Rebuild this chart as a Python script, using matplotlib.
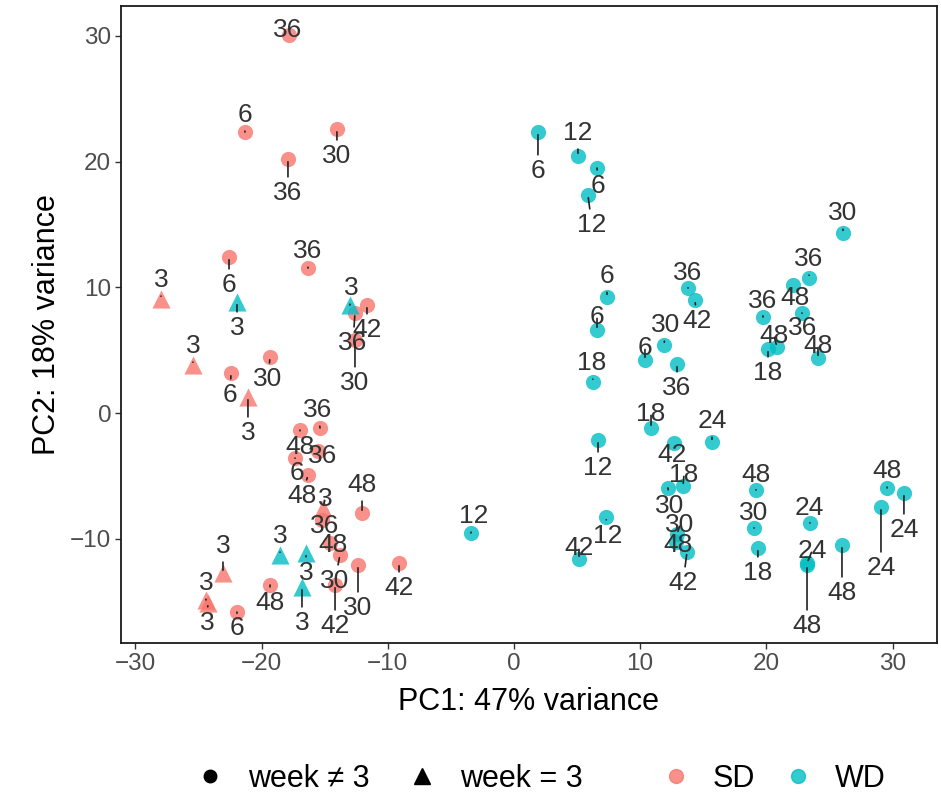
import matplotlib
matplotlib.use('Agg')

import matplotlib.pyplot as plt
from matplotlib.lines import Line2D

plt.rcParams['font.family'] = ['Liberation Sans', 'DejaVu Sans']

# PCA scores, one entry per sample
pc1 = [-17.83, -21.32, -14.03, -17.91, -27.97, -22.58, -16.32, -11.65,
       -12.60, -12.60, -25.44, -19.33, -22.42, -21.08, -15.37, -16.96,
       -15.53, -17.35, -16.32, -12.04, -15.13, -15.21, -14.58, -13.79,
       -14.18, -12.36, -9.11, -19.33, -21.95, -23.06, -24.41, -24.25,
       1.90, 5.07, 6.58, 5.86, -21.95, -13.00, 7.37, 6.58,
       13.79, 14.34, 11.89, 10.38, 12.92, 6.26, 10.86, 15.69,
       6.66, 12.68, 13.39, 12.20, 12.92, 12.84, 13.71, 7.29,
       5.15, -3.41, -18.54, -16.48, -16.80, 26.07, 23.38, 22.11,
       19.73, 22.82, 20.13, 20.84, 24.09, 19.18, 19.02, 19.33,
       23.45, 23.22, 23.22, 25.99, 29.56, 30.90, 29.08]
pc2 = [30.06, 22.35, 22.58, 20.20, 9.07, 12.41, 11.53, 8.59,
       7.95, 5.81, 3.82, 4.45, 3.18, 1.27, -1.19, -1.35,
       -3.02, -3.58, -4.93, -7.95, -7.55, -8.51, -10.34, -11.29,
       -13.68, -12.09, -11.93, -13.68, -15.83, -12.72, -14.87, -15.11,
       22.35, 20.44, 19.48, 17.34, 8.83, 8.59, 9.22, 6.60,
       9.94, 8.99, 5.41, 4.21, 3.90, 2.47, -1.19, -2.31,
       -2.15, -2.39, -5.81, -5.96, -9.62, -10.26, -11.05, -8.27,
       -11.61, -9.54, -11.29, -11.13, -13.84, 14.31, 10.74, 10.18,
       7.63, 7.95, 5.09, 5.25, 4.37, -6.12, -9.15, -10.74,
       -8.75, -11.93, -12.09, -10.50, -5.96, -6.36, -7.48]
diet = ['SD'] * 32 + ['WD'] * 47
week = [36, 6, 30, 36, 3, 6, 36, 42,
        36, 30, 3, 30, 6, 3, 36, 48,
        36, 6, 48, 48, 3, 36, 48, 30,
        42, 30, 42, 48, 6, 3, 3, 3,
        6, 12, 6, 12, 3, 3, 6, 6,
        36, 42, 30, 6, 36, 18, 18, 24,
        12, 42, 18, 30, 30, 48, 42, 12,
        42, 12, 3, 3, 3, 30, 36, 48,
        36, 36, 18, 48, 48, 48, 30, 18,
        24, 24, 48, 48, 48, 24, 24]

# repelled label placement: pixel nudge from each point (x right, y up)
nudge_x = [-1, 0, 0, 0, 0, 0, 0, 0,
           -2, 0, 0, -2, -1, 0, -2, 0,
           5, 2, -6, 0, 2, 3, 3, -5,
           0, 0, 0, 0, 0, 0, 0, -1,
           0, 0, 1, 4, 0, 1, 0, 0,
           0, 2, 2, 0, 0, -1, 0, 0,
           0, -2, 1, 2, 3, 2, -4, 2,
           0, 3, 0, 0, 0, 0, 0, 2,
           0, 1, 0, -3, 0, 0, 0, 0,
           -1, 5, 0, 0, 0, 0, 0]
nudge_y = [8, 20, -24, -31, 22, -25, 20, -22,
           -27, -40, 22, -19, -19, -33, 21, -14,
           -2, -12, -18, 31, 12, -3, 1, -23,
           -38, -40, -22, -15, -13, 30, 20, -17,
           -36, 26, -15, -27, -23, 20, 24, 16,
           18, -18, 23, 15, -21, 22, 17, 24,
           -25, -9, 14, -15, 12, 0, -28, -16,
           14, 20, 22, -17, -33, 23, 22, -10,
           19, -12, -21, 14, 15, 18, 18, -22,
           18, 15, -58, -45, 20, -34, -58]

diet_colors = {'SD': '#F8766D', 'WD': '#00BFC4'}
point_alpha = 0.8

fig = plt.figure(figsize=(9.41, 7.96), dpi=100)
ax = fig.add_axes([121 / 941, 153 / 796, 816 / 941, 637 / 796])

# points: colour by diet, triangle for week 3
for d in ('SD', 'WD'):
    for is_w3, marker, size in ((False, 'o', 120), (True, '^', 170)):
        idx = [i for i in range(len(pc1))
               if diet[i] == d and (week[i] == 3) == is_w3]
        ax.scatter([pc1[i] for i in idx], [pc2[i] for i in idx],
                   s=size, marker=marker, color=diet_colors[d],
                   alpha=point_alpha, linewidths=0, zorder=2)

# week labels with short leader segments
for x, y, w, dx, dy in zip(pc1, pc2, week, nudge_x, nudge_y):
    props = None
    if (dx ** 2 + dy ** 2) ** 0.5 > 12:
        props = dict(arrowstyle='-', color='#222222', lw=1.2,
                     shrinkA=1, shrinkB=2)
    ax.annotate(str(w), xy=(x, y), xytext=(dx, dy - 3),
                textcoords='offset pixels', ha='center', va='center',
                fontsize=19, color='#333333', arrowprops=props, zorder=3)

ax.set_xlim(-31.14, 33.52)
ax.set_ylim(-18.29, 32.37)
ax.set_xticks([-30, -20, -10, 0, 10, 20, 30])
ax.set_yticks([-10, 0, 10, 20, 30])
ax.tick_params(labelsize=17.5, labelcolor='#4D4D4D', color='#333333',
               length=4, width=1, pad=3)
for spine in ax.spines.values():
    spine.set_color('#1a1a1a')
    spine.set_linewidth(1.3)

ax.set_xlabel('PC1: 47% variance', fontsize=22, labelpad=9)
ax.set_ylabel('PC2: 18% variance', fontsize=22, labelpad=6)

# bottom legends: shape by week, colour by diet
legend_kw = dict(ncol=2, loc='center left', frameon=False, fontsize=22,
                 borderpad=0, borderaxespad=0, handlelength=0.8)

shape_handles = [
    Line2D([], [], marker='o', color='black', linestyle='', markersize=9),
    Line2D([], [], marker='^', color='black', linestyle='', markersize=11),
]
fig.legend(shape_handles, ['week \u2260 3', 'week = 3'],
           bbox_to_anchor=(198 / 941, 1 - 779 / 796),
           handletextpad=0.85, columnspacing=1.3, **legend_kw)

color_handles = [
    Line2D([], [], marker='o', color=diet_colors[d], alpha=point_alpha,
           linestyle='', markersize=10)
    for d in ('SD', 'WD')
]
fig.legend(color_handles, ['SD', 'WD'],
           bbox_to_anchor=(664 / 941, 1 - 779 / 796),
           handletextpad=0.8, columnspacing=1.0, **legend_kw)

fig.savefig('out.png', dpi=100)
